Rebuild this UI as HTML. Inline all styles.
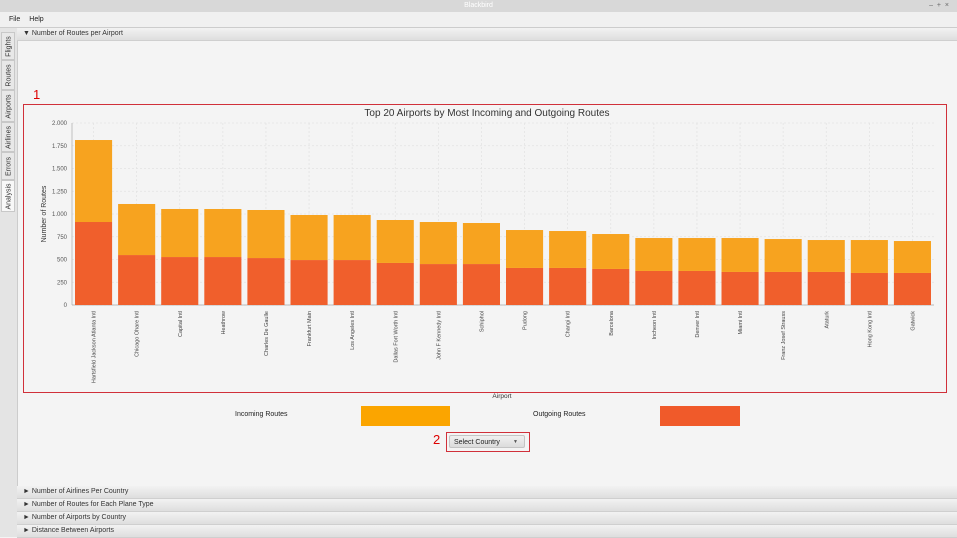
<!DOCTYPE html>
<html><head><meta charset="utf-8"><style>
body{margin:0;width:957px;height:537px;position:relative;overflow:hidden;background:#f4f4f4;font-family:"Liberation Sans","DejaVu Sans",sans-serif;}
.abs{position:absolute;}
.hdr{position:absolute;left:17px;width:940px;height:12px;background:linear-gradient(#f2f2f2,#dedede);border-bottom:1px solid #cfcfcf;font-size:7px;color:#333;line-height:12px;}
.hdr span{margin-left:6px;}
.tab{position:absolute;left:1px;width:14px;font-size:7px;color:#333;border:1px solid #c8c8c8;background:#e8e8e8;box-sizing:border-box;}
.tab div{transform:rotate(-90deg);white-space:nowrap;position:absolute;left:-10px;width:34px;text-align:center;}
</style></head><body>
<div class="abs" style="left:0;top:0;width:957px;height:12px;background:#d8d8d8;font-size:7px;color:#fff;text-align:center;line-height:12px;">Blackbird<span style="position:absolute;right:8px;color:#666">–&nbsp;&nbsp;+&nbsp;&nbsp;×</span></div>
<div class="abs" style="left:0;top:12px;width:957px;height:15px;background:#f0f0f0;border-bottom:1px solid #ccc;font-size:7px;line-height:15px;color:#222;">
<span style="margin-left:9px">File</span><span style="margin-left:9px">Help</span></div>
<div class="abs" style="left:0;top:28px;width:17px;height:509px;background:#e4e4e4;border-right:1px solid #ccc"></div>
<div class="tab" style="top:32px;height:28px"><div style="top:10px">Flights</div></div>
<div class="tab" style="top:60px;height:30px"><div style="top:11px">Routes</div></div>
<div class="tab" style="top:90px;height:32px"><div style="top:12px">Airports</div></div>
<div class="tab" style="top:122px;height:30px"><div style="top:11px">Airlines</div></div>
<div class="tab" style="top:152px;height:28px"><div style="top:10px">Errors</div></div>
<div class="tab" style="top:180px;height:32px;background:#f8f8f8"><div style="top:12px">Analysis</div></div>
<div class="hdr" style="top:28px"><span>▼ Number of Routes per Airport</span></div>
<div class="abs" style="left:33px;top:87px;color:#d00;font-size:13px">1</div>
<div class="abs" style="left:23px;top:104px;width:922px;height:287px;border:1px solid #d0303a;"></div>
<svg class="abs" style="left:0;top:0" width="957" height="537" id="chart"></svg>
<div class="abs" style="left:235px;top:411px;font-size:7px;color:#222">Incoming Routes</div>
<div class="abs" style="left:361px;top:406px;width:89px;height:20px;background:#fba500"></div>
<div class="abs" style="left:533px;top:411px;font-size:7px;color:#222">Outgoing Routes</div>
<div class="abs" style="left:660px;top:406px;width:80px;height:20px;background:#f05a2a"></div>
<div class="abs" style="left:433px;top:432px;color:#d00;font-size:13px">2</div>
<div class="abs" style="left:446px;top:432px;width:82px;height:18px;border:1px solid #d0303a"></div>
<div class="abs" style="left:449px;top:435px;width:76px;height:13px;background:linear-gradient(#f0f0f0,#dcdcdc);border:1px solid #c4c4c4;border-radius:2px;font-size:7px;line-height:13px;color:#222;box-sizing:border-box;padding-left:4px">Select Country<span style="position:absolute;right:6px;font-size:5px;color:#555">▼</span></div>
<div class="hdr" style="top:486px"><span>► Number of Airlines Per Country</span></div>
<div class="hdr" style="top:499px"><span>► Number of Routes for Each Plane Type</span></div>
<div class="hdr" style="top:512px"><span>► Number of Airports by Country</span></div>
<div class="hdr" style="top:525px"><span>► Distance Between Airports</span></div>
<script>
const categories=["Hartsfield Jackson Atlanta Intl","Chicago Ohare Intl","Capital Intl","Heathrow","Charles De Gaulle","Frankfurt Main","Los Angeles Intl","Dallas Fort Worth Intl","John F Kennedy Intl","Schiphol","Pudong","Changi Intl","Barcelona","Incheon Intl","Denver Intl","Miami Intl","Franz Josef Strauss","Ataturk","Hong Kong Intl","Gatwick"];
const outgoing=[912,549,527,527,516,494,494,462,450,450,407,407,396,374,374,363,363,363,352,352];
const incoming=[901,561,528,528,528,495,495,472,462,451,417,406,384,362,362,373,362,351,362,351];
const ticks=[0,250,500,750,1000,1250,1500,1750,2000];
const tickLabels=["0","250","500","750","1.000","1.250","1.500","1.750","2.000"];
const NS="http://www.w3.org/2000/svg";
const svg=document.getElementById('chart');
const X0=72,X1=934,Y0=305,Y1=123,MAX=2000;
const band=(X1-X0)/categories.length;
const y=v=>Y0-(v/MAX)*(Y0-Y1);
const x=i=>X0+i*band;
function mk(t,a,txt){const e=document.createElementNS(NS,t);for(const k in a)e.setAttribute(k,a[k]);if(txt!=null)e.textContent=txt;svg.appendChild(e);return e;}
let e=mk('text',{x:487,y:116,'text-anchor':'middle','font-size':10,fill:'#333'},'Top 20 Airports by Most Incoming and Outgoing Routes');


ticks.forEach((t,i)=>{
 const g=mk('line',{x1:X0,x2:X1,y1:y(t),y2:y(t),stroke:'#e2e2e2','stroke-dasharray':'2,2','stroke-width':0.7});
 
 
 const l=mk('text',{x:X0-5,y:y(t)+2,'text-anchor':'end','font-size':6,fill:'#555'},tickLabels[i]);
 
 
});
categories.forEach((c,i)=>{
 const gx=mk('line',{x1:x(i)+band/2,x2:x(i)+band/2,y1:Y1,y2:Y0,stroke:'#e2e2e2','stroke-dasharray':'2,2','stroke-width':0.7});
 
 
});
mk('line',{x1:X0,x2:X0,y1:Y1,y2:Y0,stroke:'#aaa','stroke-width':0.7});
mk('line',{x1:X0,x2:X1,y1:Y0,y2:Y0,stroke:'#aaa','stroke-width':0.7});
categories.forEach((c,i)=>{
 const bx=x(i)+3,bw=band-6;
 const b1=mk('rect',{x:bx,y:y(outgoing[i]),width:bw,height:Y0-y(outgoing[i]),fill:'#f05f2c'});
 
 
 const tot=outgoing[i]+incoming[i];
 const b2=mk('rect',{x:bx,y:y(tot),width:bw,height:y(outgoing[i])-y(tot),fill:'#f7a31f'});
 
 
 const cx=x(i)+band/2+2;
 const t=mk('text',{x:cx,y:311,'text-anchor':'end','font-size':5.5,fill:'#444',transform:`rotate(-90 ${cx} 311)`},c);
 
 
});
e=mk('text',{x:46,y:214,'text-anchor':'middle','font-size':7,fill:'#333',transform:'rotate(-90 46 214)'},'Number of Routes');


e=mk('text',{x:502,y:398,'text-anchor':'middle','font-size':6.5,fill:'#333'},'Airport');


</script>
</body></html>
